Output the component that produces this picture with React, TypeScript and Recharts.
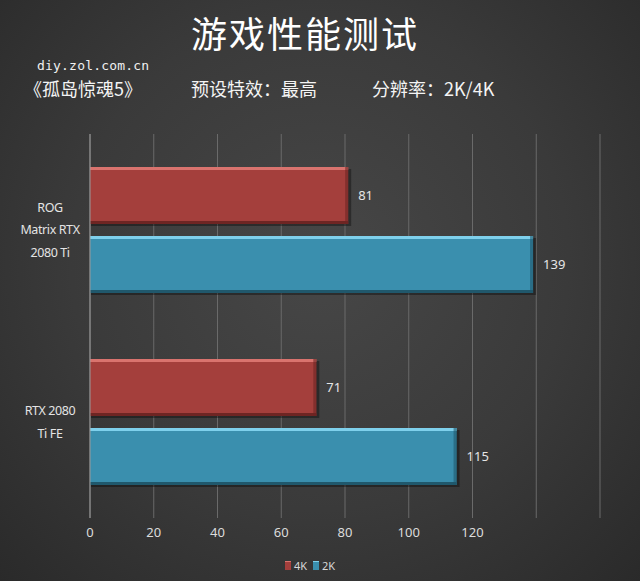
import * as React from "react";
import {
    BarChart,
    Bar,
    XAxis,
    YAxis,
    CartesianGrid,
    Legend,
    LabelList,
} from "recharts";

const cards = ["ROG Matrix RTX 2080 Ti", "RTX 2080 Ti FE"];
const cardLines = [["ROG", "Matrix RTX", "2080 Ti"], ["RTX 2080", "Ti FE"]];
const fps4k = [81, 71];
const fps2k = [139, 115];
const xTicks = [0, 20, 40, 60, 80, 100, 120, 140, 160];
const shownTicks = [0, 20, 40, 60, 80, 100, 120];

const chartData = cards.map((name, i) => ({
    name,
    lines: cardLines[i],
    k4: fps4k[i],
    k2: fps2k[i],
}));

const SERIES = {
    k4: { main: "#a43f3c", light: "#d9736e", dark: "#6e2523" },
    k2: { main: "#3a8fae", light: "#7ed0ec", dark: "#20586c" },
};

const latin = "'Noto Sans', 'Open Sans', sans-serif";
const cjk = "'Noto Sans CJK SC', sans-serif";

function BevelBar(props: any) {
    const { x, y, width, height, colors } = props;
    if (!width || width <= 0) return null;
    return (
        <g>
            <rect x={x + 1} y={y + 2} width={width + 2} height={height} fill="#000" opacity={0.35} />
            <rect x={x} y={y} width={width} height={height} fill={colors.main} />
            <rect x={x} y={y} width={width} height={3} fill={colors.light} />
            <rect x={x} y={y + height - 3} width={width} height={3} fill={colors.dark} />
            <rect x={x + width - 3} y={y} width={3} height={height} fill={colors.dark} opacity={0.6} />
        </g>
    );
}

function CardTick(props: any) {
    const { y, payload, index } = props;
    const lines: string[] = cardLines[index] ?? [payload.value];
    const lh = 22.5;
    const start = y - ((lines.length - 1) * lh) / 2;
    return (
        <text x={50} y={start} textAnchor="middle" fill="#e4e4e4" fontSize={12.5} letterSpacing={-0.4} fontFamily={latin}>
            {lines.map((l, i) => (
                <tspan key={i} x={50} y={start + i * lh} dy="0.35em">
                    {l}
                </tspan>
            ))}
        </text>
    );
}

function ValueTick(props: any) {
    const { x, y, payload } = props;
    if (!shownTicks.includes(payload.value)) return null;
    return (
        <text x={x} y={y + 11} textAnchor="middle" fill="#dcdcdc" fontSize={13} fontFamily={latin}>
            {payload.value}
        </text>
    );
}

function LegendBox() {
    const item = (c: { main: string; light: string }, label: string) => (
        <span style={{ display: "inline-flex", alignItems: "center", margin: "0 3px" }}>
            <span style={{ width: 6, height: 8, background: c.main, borderTop: `1px solid ${c.light}`, marginRight: 3 }} />
            <span style={{ color: "#d8d8d8", fontSize: 11, fontFamily: latin }}>{label}</span>
        </span>
    );
    return (
        <div style={{ textAlign: "center", paddingTop: 8, marginLeft: 20 }}>
            {item(SERIES.k4, "4K")}
            {item(SERIES.k2, "2K")}
        </div>
    );
}

export default function App() {
    return (
        <div
            style={{
                position: "absolute",
                left: 0,
                top: 0,
                width: 640,
                height: 581,
                background: "radial-gradient(ellipse at 50% 45%, #474747 0%, #3a3a3a 55%, #2a2a2a 100%)",
                overflow: "hidden",
            }}
        >
            <div style={{ position: "absolute", left: 0, width: 610, top: 6, textAlign: "center", color: "#fff", fontSize: 36, fontFamily: cjk, letterSpacing: 2 }}>
                游戏性能测试
            </div>
            <div style={{ position: "absolute", left: 37, top: 58, color: "#f0f0f0", fontSize: 13, fontFamily: "'DejaVu Sans Mono', monospace", letterSpacing: 0.2 }}>
                diy.zol.com.cn
            </div>
            <div style={{ position: "absolute", left: 24, top: 75, color: "#f4f4f4", fontSize: 18, fontFamily: cjk, whiteSpace: "pre" }}>
                《孤岛惊魂5》
            </div>
            <div style={{ position: "absolute", left: 191, top: 75, color: "#f4f4f4", fontSize: 18, fontFamily: cjk }}>
                预设特效：最高
            </div>
            <div style={{ position: "absolute", left: 372, top: 75, color: "#f4f4f4", fontSize: 18, fontFamily: cjk }}>
                分辨率：2K/4K
            </div>
            <BarChart
                width={640}
                height={581}
                data={chartData}
                layout="vertical"
                margin={{ top: 134, right: 40, bottom: 5, left: 0 }}
                barCategoryGap={33}
                barGap={12}
            >
                <CartesianGrid horizontal={false} stroke="#6a6a6a" strokeWidth={1} />
                <XAxis
                    type="number"
                    domain={[0, 160]}
                    ticks={xTicks}
                    height={30}
                    axisLine={false}
                    tickLine={false}
                    tick={<ValueTick />}
                    interval={0}
                />
                <YAxis
                    type="category"
                    dataKey="name"
                    width={90}
                    axisLine={{ stroke: "#9a9a9a" }}
                    tickLine={false}
                    tick={<CardTick />}
                />
                <Legend verticalAlign="bottom" height={28} content={<LegendBox />} />
                <Bar dataKey="k4" name="4K" fill={SERIES.k4.main} isAnimationActive={false} shape={<BevelBar colors={SERIES.k4} />}>
                    <LabelList dataKey="k4" position="right" offset={10} fill="#e6e6e6" fontSize={13} fontFamily={latin} />
                </Bar>
                <Bar dataKey="k2" name="2K" fill={SERIES.k2.main} isAnimationActive={false} shape={<BevelBar colors={SERIES.k2} />}>
                    <LabelList dataKey="k2" position="right" offset={10} fill="#e6e6e6" fontSize={13} fontFamily={latin} />
                </Bar>
            </BarChart>
        </div>
    );
}
